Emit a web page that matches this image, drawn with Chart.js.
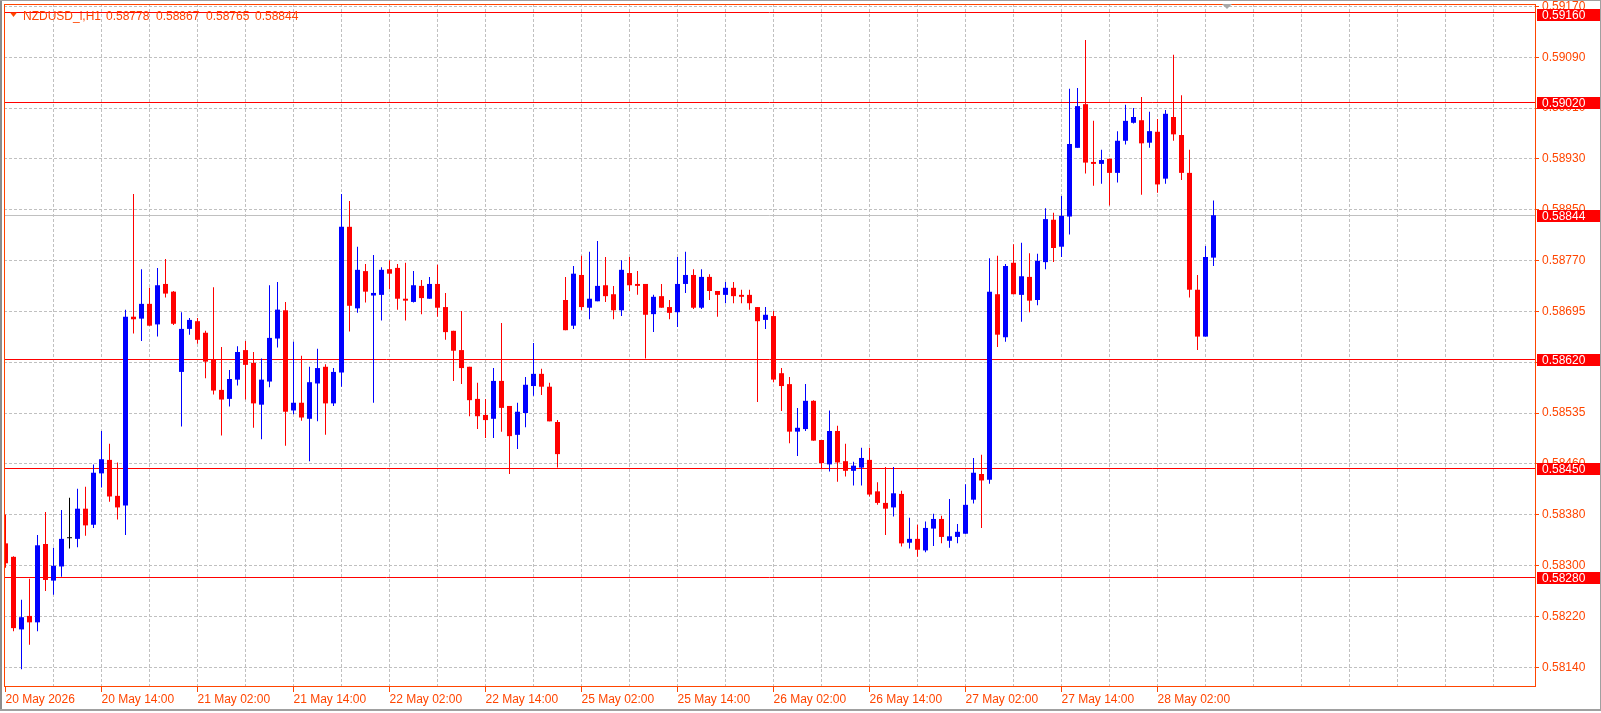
<!DOCTYPE html>
<html>
<head>
<meta charset="utf-8">
<script src="https://cdn.jsdelivr.net/npm/chart.js@4.4.1/dist/chart.umd.min.js"></script>
<style>html,body{margin:0;padding:0;background:#fff;overflow:hidden}canvas{display:block}</style>
</head>
<body>
<canvas id="c" width="1601" height="713"></canvas>
<script>
// ---- data (NZDUSD_i, H1, bar 0 = 20 May 2026 02:00) ----
const openP = [0.58333,0.58312,0.58199,0.58220,0.58210,0.58332,0.58275,0.58297,0.58341,0.58340,
0.58387,0.58362,0.58442,0.58463,0.58407,0.58392,0.58686,0.58683,0.58706,0.58674,
0.58737,0.58725,0.58600,0.58667,0.58679,0.58661,0.58620,0.58572,0.58558,0.58588,
0.58634,0.58614,0.58549,0.58585,0.58652,0.58696,0.58540,0.58552,0.58527,0.58582,
0.58608,0.58551,0.58599,0.58826,0.58699,0.58757,0.58719,0.58720,0.58760,0.58762,
0.58714,0.58709,0.58734,0.58714,0.58737,0.58701,0.58664,0.58634,0.58608,0.58558,
0.58533,0.58527,0.58586,0.58547,0.58502,0.58536,0.58578,0.58597,0.58577,0.58522,
0.58712,0.58672,0.58751,0.58700,0.58710,0.58735,0.58721,0.58696,0.58754,0.58737,
0.58737,0.58690,0.58718,0.58701,0.58693,0.58737,0.58751,0.58700,0.58748,0.58726,
0.58720,0.58731,0.58720,0.58720,0.58701,0.58681,0.58687,0.58598,0.58581,0.58507,
0.58511,0.58555,0.58494,0.58456,0.58508,0.58461,0.58446,0.58451,0.58463,0.58414,
0.58396,0.58389,0.58410,0.58334,0.58340,0.58322,0.58356,0.58371,0.58337,0.58343,
0.58348,0.58401,0.58441,0.58432,0.58721,0.58654,0.58770,0.58720,0.58748,0.58712,
0.58771,0.58837,0.58795,0.58842,0.58949,0.59017,0.58927,0.58924,0.58932,0.58910,
0.58960,0.58988,0.58992,0.58957,0.58974,0.58901,0.58997,0.58969,0.58910,0.58728,
0.58655,0.58778];
const highP = [0.58378,0.58313,0.58245,0.58278,0.58346,0.58382,0.58326,0.58385,0.58404,0.58418,
0.58421,0.58456,0.58508,0.58488,0.58459,0.58697,0.58877,0.58760,0.58731,0.58762,
0.58776,0.58726,0.58693,0.58684,0.58684,0.58664,0.58732,0.58639,0.58603,0.58640,
0.58648,0.58631,0.58621,0.58735,0.58740,0.58709,0.58647,0.58625,0.58608,0.58636,
0.58612,0.58606,0.58877,0.58866,0.58795,0.58768,0.58782,0.58763,0.58774,0.58768,
0.58770,0.58757,0.58743,0.58748,0.58767,0.58723,0.58664,0.58695,0.58608,0.58583,
0.58558,0.58606,0.58676,0.58547,0.58552,0.58592,0.58645,0.58605,0.58583,0.58525,
0.58748,0.58765,0.58781,0.58787,0.58804,0.58779,0.58734,0.58774,0.58779,0.58757,
0.58737,0.58720,0.58737,0.58712,0.58779,0.58787,0.58760,0.58760,0.58752,0.58726,
0.58740,0.58740,0.58728,0.58728,0.58701,0.58701,0.58695,0.58606,0.58592,0.58544,
0.58581,0.58556,0.58494,0.58540,0.58516,0.58488,0.58460,0.58482,0.58482,0.58428,
0.58452,0.58452,0.58415,0.58373,0.58362,0.58367,0.58379,0.58376,0.58402,0.58363,
0.58425,0.58466,0.58471,0.58777,0.58781,0.58768,0.58799,0.58801,0.58785,0.58784,
0.58855,0.58848,0.58874,0.59041,0.59042,0.59117,0.58991,0.58946,0.58932,0.58975,
0.59016,0.59011,0.59028,0.59005,0.58994,0.59008,0.59094,0.59031,0.58946,0.58751,
0.58796,0.58867];
const lowP = [0.58295,0.58196,0.58137,0.58175,0.58196,0.58259,0.58253,0.58281,0.58325,0.58327,
0.58345,0.58357,0.58420,0.58398,0.58370,0.58346,0.58660,0.58648,0.58672,0.58655,
0.58716,0.58673,0.58515,0.58658,0.58644,0.58590,0.58565,0.58501,0.58546,0.58579,
0.58557,0.58513,0.58495,0.58576,0.58638,0.58485,0.58534,0.58524,0.58461,0.58523,
0.58502,0.58547,0.58577,0.58663,0.58692,0.58708,0.58552,0.58680,0.58729,0.58697,
0.58680,0.58708,0.58690,0.58714,0.58686,0.58650,0.58586,0.58581,0.58531,0.58511,
0.58497,0.58497,0.58507,0.58441,0.58480,0.58514,0.58563,0.58564,0.58523,0.58451,
0.58665,0.58667,0.58696,0.58682,0.58710,0.58709,0.58682,0.58687,0.58726,0.58720,
0.58621,0.58662,0.58700,0.58682,0.58670,0.58723,0.58698,0.58698,0.58712,0.58686,
0.58707,0.58707,0.58707,0.58697,0.58553,0.58667,0.58584,0.58539,0.58489,0.58469,
0.58508,0.58493,0.58450,0.58445,0.58429,0.58437,0.58423,0.58423,0.58406,0.58393,
0.58346,0.58375,0.58328,0.58325,0.58312,0.58319,0.58329,0.58333,0.58326,0.58333,
0.58348,0.58395,0.58357,0.58426,0.58639,0.58647,0.58721,0.58678,0.58693,0.58704,
0.58760,0.58771,0.58779,0.58814,0.58949,0.58909,0.58890,0.58893,0.58859,0.58895,
0.58954,0.58987,0.58876,0.58949,0.58879,0.58893,0.58960,0.58899,0.58716,0.58634,
0.58655,0.58765];
const closeP = [0.58302,0.58201,0.58218,0.58210,0.58330,0.58276,0.58298,0.58340,0.58341,0.58387,
0.58361,0.58443,0.58464,0.58406,0.58389,0.58686,0.58682,0.58706,0.58672,0.58735,
0.58722,0.58675,0.58667,0.58681,0.58650,0.58616,0.58571,0.58557,0.58589,0.58631,
0.58611,0.58551,0.58588,0.58653,0.58697,0.58538,0.58552,0.58529,0.58584,0.58606,
0.58551,0.58600,0.58826,0.58703,0.58759,0.58725,0.58723,0.58759,0.58753,0.58714,
0.58711,0.58735,0.58715,0.58737,0.58700,0.58662,0.58633,0.58606,0.58556,0.58531,
0.58525,0.58586,0.58544,0.58500,0.58538,0.58580,0.58597,0.58577,0.58523,0.58472,
0.58665,0.58753,0.58701,0.58714,0.58734,0.58718,0.58696,0.58759,0.58735,0.58734,
0.58689,0.58717,0.58700,0.58692,0.58737,0.58751,0.58700,0.58748,0.58726,0.58720,
0.58731,0.58718,0.58717,0.58707,0.58679,0.58689,0.58588,0.58578,0.58507,0.58513,
0.58555,0.58493,0.58458,0.58508,0.58459,0.58446,0.58454,0.58466,0.58409,0.58396,
0.58387,0.58411,0.58333,0.58340,0.58323,0.58357,0.58371,0.58343,0.58344,0.58351,
0.58393,0.58443,0.58431,0.58725,0.58658,0.58765,0.58721,0.58749,0.58711,0.58773,
0.58838,0.58793,0.58843,0.58955,0.59014,0.58926,0.58924,0.58930,0.58910,0.58960,
0.58991,0.58997,0.58956,0.58975,0.58892,0.59002,0.58970,0.58910,0.58728,0.58655,
0.58779,0.58844];

const xTickBars = [0,12,24,36,48,60,72,84,96,108,120,132,144];
const xTickLabels = ['20 May 2026','20 May 14:00','21 May 02:00','21 May 14:00','22 May 02:00','22 May 14:00',
  '25 May 02:00','25 May 14:00','26 May 02:00','26 May 14:00','27 May 02:00','27 May 14:00','28 May 02:00'];
const yTickValues = [0.591692,0.590900,0.590108,0.589317,0.588525,0.587733,0.586942,0.586150,0.585358,0.584567,0.583775,0.582983,0.582192,0.581400];
const yTickLabels = ['0.59170','0.59090','0.59010','0.58930','0.58850','0.58770','0.58695','0.58615','0.58535','0.58460','0.58380','0.58300','0.58220','0.58140'];
const levelLines = [0.59160,0.59020,0.58620,0.58450,0.58280];
const levelLabels = ['0.59160','0.59020','0.58620','0.58450','0.58280'];
const symbolTitle = 'NZDUSD_i,H1';

// ---- styles ----
const AXIS = '#FF4500', GRID = '#C0C0C0', UP = '#0000FF', DOWN = '#FF0000', DOJI = '#000000';
const FONT = '"Liberation Sans", Arial, sans-serif';

const idx = openP.map((_, i) => i);
const colors = idx.map(i => closeP[i] > openP[i] ? UP : (closeP[i] < openP[i] ? DOWN : DOJI));
const bodies = idx.map(i => ({x: i, y: [openP[i], closeP[i]]}));
const wicks = idx.map(i => ({x: i, y: [lowP[i], highP[i]]}));
const xGrid = []; for (let v = 0; v <= 186; v += 6) xGrid.push(v);

const zeroPad = s => { s.paddingTop = 0; s.paddingBottom = 0; s.paddingLeft = 0; s.paddingRight = 0; };

const overlay = {
  id: 'overlay',
  beforeDatasetsDraw(chart) {
    const {ctx, chartArea: a, scales: {y}} = chart;
    ctx.save();
    ctx.beginPath(); ctx.rect(a.left, a.top, a.right - a.left, a.bottom - a.top); ctx.clip();
    ctx.lineWidth = 1;
    const bid = closeP[closeP.length - 1];
    let py = Math.floor(y.getPixelForValue(bid)) + 0.5;
    ctx.strokeStyle = GRID;
    ctx.beginPath(); ctx.moveTo(a.left, py); ctx.lineTo(a.right, py); ctx.stroke();
    ctx.strokeStyle = DOWN;
    levelLines.forEach(v => {
      const p = Math.floor(y.getPixelForValue(v)) + 0.5;
      ctx.beginPath(); ctx.moveTo(a.left, p); ctx.lineTo(a.right, p); ctx.stroke();
    });
    ctx.restore();
  },
  afterDraw(chart) {
    const {ctx, chartArea: a, scales: {y}} = chart;
    ctx.save();
    // plot frame
    ctx.strokeStyle = AXIS; ctx.lineWidth = 1;
    ctx.strokeRect(a.left + 0.5, a.top + 0.5, a.right - a.left, a.bottom - a.top - 1);
    // price boxes
    ctx.font = '12px ' + FONT; ctx.textBaseline = 'middle'; ctx.textAlign = 'left';
    const boxes = levelLines.map((v, k) => [v, levelLabels[k]]);
    const bid = closeP[closeP.length - 1];
    boxes.push([bid, bid.toFixed(5)]);
    boxes.forEach(([v, t]) => {
      const p = Math.floor(y.getPixelForValue(v)) + 0.5;
      const top = Math.max(p - 6, 8.5);
      ctx.fillStyle = DOWN;
      ctx.fillRect(a.right + 2, Math.round(top), 1601 - a.right - 2, 12);
      ctx.fillStyle = '#FFFFFF';
      ctx.fillText(t, 1542, Math.round(top) + 6.5);
    });
    // header
    ctx.fillStyle = AXIS;
    ctx.beginPath(); ctx.moveTo(10, 12.5); ctx.lineTo(17, 12.5); ctx.lineTo(13.5, 17); ctx.closePath(); ctx.fill();
    ctx.textBaseline = 'alphabetic';
    ctx.fillText(symbolTitle, 23, 19.5);
    const last = closeP.length - 1;
    const hv = [openP[last], highP[last], lowP[last], closeP[last]];
    const hx = [106, 156, 206, 255];
    hv.forEach((v, k) => ctx.fillText(v.toFixed(5), hx[k], 19.5));
    // chart shift marker
    ctx.fillStyle = '#A8A8A8';
    ctx.beginPath(); ctx.moveTo(1222, 4); ctx.lineTo(1232, 4); ctx.lineTo(1227, 9); ctx.closePath(); ctx.fill();
    // window border
    ctx.fillStyle = '#8C8C8C';
    ctx.fillRect(0, 0, 2, 711);
    ctx.fillStyle = '#A0A0A0';
    ctx.fillRect(0, 0, 1601, 1);
    ctx.fillRect(0, 709, 1601, 2);
    ctx.fillRect(1600, 0, 1, 711);
    ctx.restore();
  }
};

new Chart(document.getElementById('c'), {
  type: 'bar',
  data: {
    datasets: [
      {data: bodies, backgroundColor: colors, barThickness: 5, grouped: false, borderWidth: 0, inflateAmount: 0, minBarLength: 1},
      {data: wicks, backgroundColor: colors, barThickness: 1, grouped: false, borderWidth: 0, inflateAmount: 0}
    ]
  },
  options: {
    responsive: false, animation: false, devicePixelRatio: 1,
    layout: {padding: {left: 4, top: 4, right: 0, bottom: 0}},
    plugins: {legend: {display: false}, tooltip: {enabled: false}},
    scales: {
      x: {
        type: 'linear', position: 'bottom', offset: false, min: -0.1875, max: 191.1875, bounds: 'data',
        afterBuildTicks: s => { s.ticks = xGrid.map(v => ({value: v})); },
        afterFit: s => { s.height = 26; zeroPad(s); },
        ticks: {
          autoSkip: false, maxRotation: 0, minRotation: 0, align: 'start', padding: 0,
          color: AXIS, font: {family: FONT, size: 12},
          callback: v => { const k = xTickBars.indexOf(v); return k >= 0 ? xTickLabels[k] : ''; }
        },
        grid: {
          offset: false,
          color: c => (c.tick && c.tick.value === 0) ? 'rgba(0,0,0,0)' : GRID,
          lineWidth: 1, drawTicks: true, tickLength: 5, tickWidth: 1, tickBorderDash: [],
          tickColor: c => (c.tick && xTickBars.includes(c.tick.value)) ? AXIS : 'rgba(0,0,0,0)'
        },
        border: {display: false, dash: [3, 2]}
      },
      y: {
        type: 'linear', position: 'right', min: 0.581093, max: 0.591730, bounds: 'data',
        afterBuildTicks: s => { s.ticks = yTickValues.map(v => ({value: v})); },
        afterFit: s => { s.width = 66; zeroPad(s); },
        ticks: {
          autoSkip: false, padding: 3, color: AXIS, font: {family: FONT, size: 12},
          callback: v => { const k = yTickValues.indexOf(v); return k >= 0 ? yTickLabels[k] : ''; }
        },
        grid: {color: GRID, lineWidth: 1, drawTicks: true, tickLength: 4, tickWidth: 1, tickBorderDash: [], tickColor: AXIS},
        border: {display: false, dash: [3, 2]}
      }
    }
  },
  plugins: [overlay]
});
</script>
</body>
</html>
